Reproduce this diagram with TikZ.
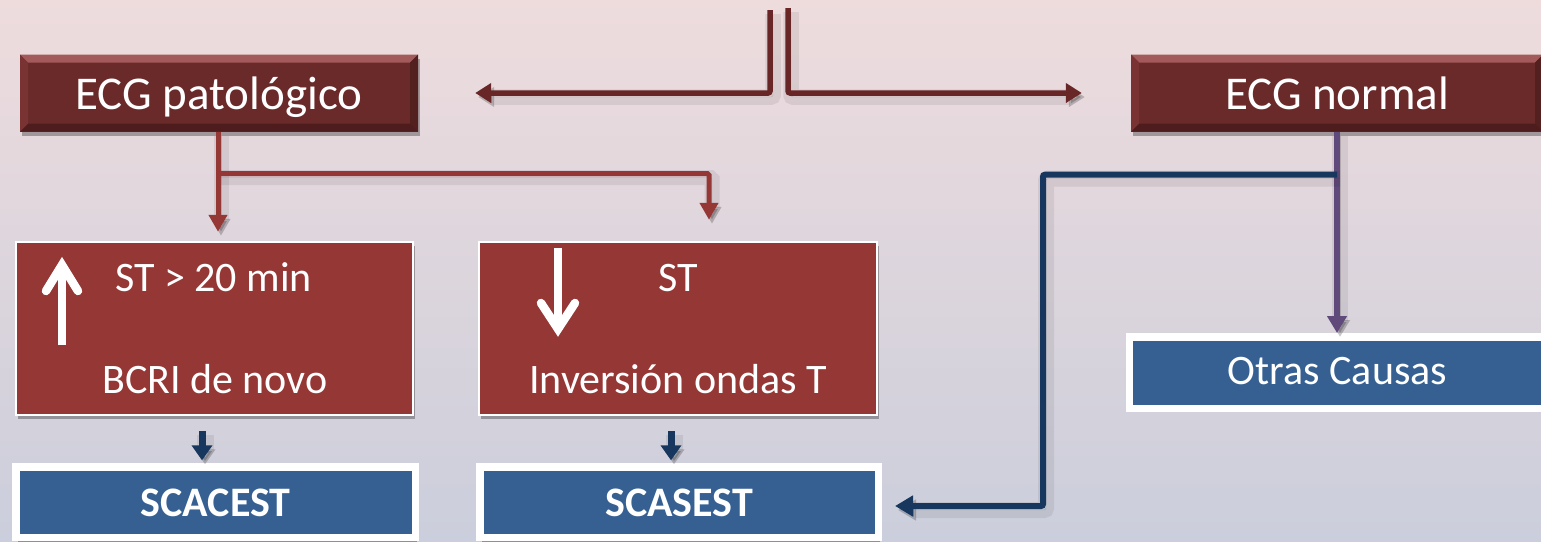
\documentclass[tikz,border=0pt]{standalone}
\usepackage{fontspec}
\setmainfont{Carlito}
\usetikzlibrary{arrows.meta,shadows,calc}

\definecolor{bgtop}{HTML}{EEDCDD}
\definecolor{bgbot}{HTML}{CBCEDC}
\definecolor{ecgred}{HTML}{6B2A2A}
\definecolor{ecglight}{HTML}{A35A5A}
\definecolor{ecgmid}{HTML}{7A3333}
\definecolor{ecgdark}{HTML}{4E1C1C}
\definecolor{boxred}{HTML}{953735}
\definecolor{boxblue}{HTML}{366092}
\definecolor{navyln}{HTML}{17375E}
\definecolor{purpleln}{HTML}{604A7B}
\definecolor{toplink}{HTML}{692626}

\tikzset{
  % soft shadow under connectors, built from two offset strokes
  lshadow/.style={
    preaction={draw=black, opacity=.07, line width=\pgflinewidth+5pt, transform canvas={shift={(3pt,-4pt)}}},
    preaction={draw=black, opacity=.15, transform canvas={shift={(3pt,-4pt)}}}},
  ecgbox/.style={rectangle, fill=ecgred, text=white, inner sep=0pt,
    minimum height=77pt, text height=32pt, text depth=0pt,
    font=\fontsize{47}{56}\selectfont,
    drop shadow={shadow xshift=2pt, shadow yshift=-4pt, opacity=.3, fill=black},
    path picture={
      \fill[ecglight] (path picture bounding box.north west) -- (path picture bounding box.north east)
        -- ([shift={(-8pt,-8pt)}]path picture bounding box.north east)
        -- ([shift={(8pt,-8pt)}]path picture bounding box.north west) -- cycle;
      \fill[ecgdark] (path picture bounding box.south west) -- (path picture bounding box.south east)
        -- ([shift={(-8pt,8pt)}]path picture bounding box.south east)
        -- ([shift={(8pt,8pt)}]path picture bounding box.south west) -- cycle;
      \fill[ecgmid] (path picture bounding box.north west)
        -- ([shift={(8pt,-8pt)}]path picture bounding box.north west)
        -- ([shift={(8pt,8pt)}]path picture bounding box.south west)
        -- (path picture bounding box.south west) -- cycle;
      \fill[ecgdark!80!ecgred] (path picture bounding box.north east)
        -- ([shift={(-8pt,-8pt)}]path picture bounding box.north east)
        -- ([shift={(-8pt,8pt)}]path picture bounding box.south east)
        -- (path picture bounding box.south east) -- cycle;
    }},
  redbox/.style={rectangle, fill=boxred, draw=white, line width=2.5pt,
    minimum width=397pt, minimum height=173pt,
    drop shadow={shadow xshift=2pt, shadow yshift=-4pt, opacity=.3, fill=black}},
  bluebox/.style={rectangle, fill=boxblue, draw=white, line width=7.5pt,
    text=white, inner sep=0pt,
    drop shadow={shadow xshift=2pt, shadow yshift=-4pt, opacity=.3, fill=black}},
  bodytext/.style={text=white, inner sep=0pt, font=\fontsize{42}{50}\selectfont},
  whiteshaft/.style={draw=white, line width=8.5pt, line cap=butt},
  whitehead/.style={draw=white, line width=8.5pt, line cap=round, line join=miter},
  toparrow/.style={draw=toplink, line width=5.5pt, rounded corners=2pt, lshadow,
    -{Triangle[length=16pt,width=19pt]}},
  redarrow/.style={draw=boxred, line width=5pt, rounded corners=1.5pt, lshadow,
    -{Triangle[length=17pt,width=18pt]}},
  purplearrow/.style={draw=purpleln, line width=6pt, lshadow,
    -{Triangle[length=17pt,width=19pt]}},
  navyarrow/.style={draw=navyln, line width=6pt, rounded corners=2pt, lshadow,
    -{Triangle[length=18pt,width=20pt]}},
  navyshort/.style={draw=navyln, line width=7pt, lshadow,
    -{Triangle[length=15pt,width=20pt]}},
}

\begin{document}
\begin{tikzpicture}[x=1pt,y=-1pt]
  \useasboundingbox (0,0) rectangle (1541,541);
  \clip (0,0) rectangle (1541,541);
  \shade[top color=bgtop, bottom color=bgbot] (0,0) rectangle (1541,541);

  % top level boxes
  \node[ecgbox, minimum width=398pt] (ecgp) at (219,93) {ECG patológico};
  \node[ecgbox, minimum width=412pt] (ecgn) at (1337,93) {ECG normal};

  % criteria boxes
  \node[redbox] (r1) at (214.5,328.5) {};
  \node[redbox, minimum width=398pt] (r2) at (678,328.5) {};
  \node[bodytext, anchor=base] (t1a) at (213.5,291) {ST > 20 min};
  \node[bodytext, anchor=base] (t1b) at (215,393) {BCRI de novo};
  \node[bodytext, anchor=base] (t2a) at (678,291) {ST};
  \node[bodytext, anchor=base] (t2b) at (678,393) {Inversión ondas T};

  % ST elevation / depression glyphs
  \draw[whiteshaft] (62,345) -- (62,266);
  \draw[whitehead] (46,291) -- (62,265) -- (78,291);
  \draw[whiteshaft] (558,248) -- (558,328);
  \draw[whitehead] (541,303) -- (558,329) -- (575,303);

  % diagnosis boxes
  \node[bluebox, minimum width=399.5pt, minimum height=70.5pt, text height=29pt, text depth=0pt,
        font=\fontsize{42}{50}\selectfont\bfseries] (scac) at (215.5,502.3) {SCACEST};
  \node[bluebox, minimum width=398.5pt, minimum height=70.5pt, text height=29pt, text depth=0pt,
        font=\fontsize{42}{50}\selectfont\bfseries] (scas) at (679,502.3) {SCASEST};
  \node[bluebox, minimum width=416pt, minimum height=71.5pt, text height=23pt, text depth=0pt,
        font=\fontsize{42}{50}\selectfont] (otras) at (1337.5,372.5) {Otras Causas};

  % split at the top
  \coordinate (jl) at (770,10);
  \coordinate (jr) at (788,8);
  \draw[toparrow] (jl) |- ([xshift=57pt]ecgp.east);
  \draw[toparrow] (jr) |- ([xshift=-49pt]ecgn.west);

  % abnormal ECG branches
  \draw[redarrow] ([xshift=-1pt]ecgp.south) -- ([xshift=-1pt,yshift=9pt]ecgp.south |- r1.north);
  \draw[redarrow] ($(ecgp.south)+(-1,42)$) -| ([xshift=31pt,yshift=21pt]r2.north);

  % normal ECG branches
  \draw[purplearrow] (ecgn.south) -- (ecgn.south |- otras.north);
  \coordinate (nvc) at (1043,506);
  \draw[navyarrow] ($(ecgn.south)+(0,43)$) -| (nvc) -- ([xshift=13pt]scas.east |- nvc);

  % criteria to diagnosis
  \draw[navyshort] ([xshift=-12.5pt,yshift=-15pt]r1.south) -- ([xshift=-12.5pt,yshift=3pt]r1.south |- scac.north);
  \draw[navyshort] ([xshift=-7pt,yshift=-15pt]r2.south) -- ([xshift=-7pt,yshift=3pt]r2.south |- scas.north);
\end{tikzpicture}
\end{document}
